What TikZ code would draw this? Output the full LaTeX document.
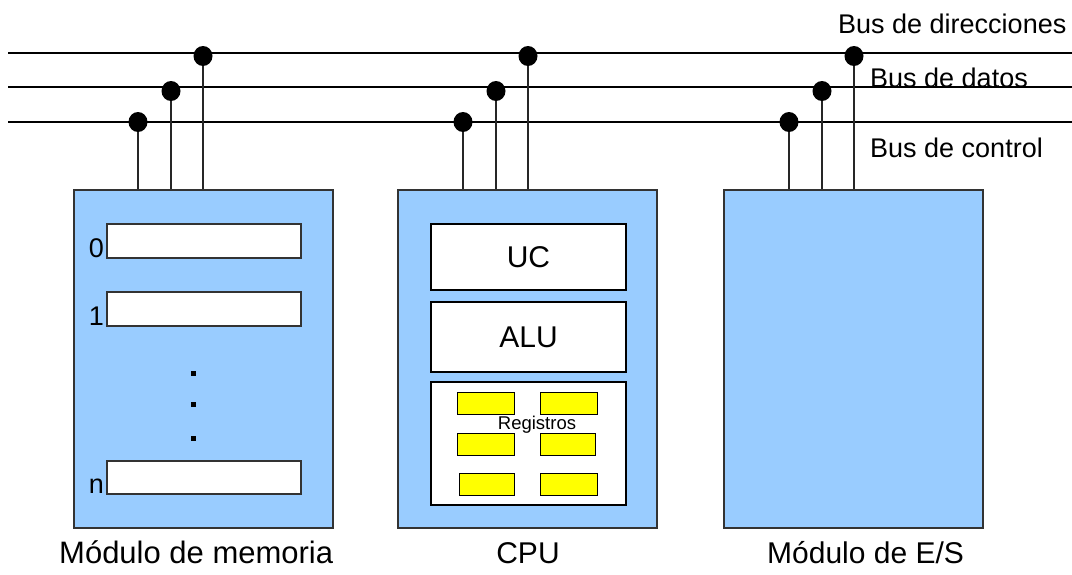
\documentclass[tikz,border=0pt]{standalone}
\usepackage{fontspec}
\setmainfont{Liberation Sans}
\usetikzlibrary{shapes.geometric}
\definecolor{modfill}{HTML}{99CCFF}
\definecolor{edge}{HTML}{333333}
\definecolor{regfill}{HTML}{FFFF00}
\tikzset{
  module/.style={draw=edge, line width=1.2pt, fill=modfill, rectangle, inner sep=0pt,
                 minimum width=259pt, minimum height=338pt},
  cell/.style={draw=edge, line width=1.2pt, fill=white, rectangle, inner sep=0pt,
               minimum width=194pt, minimum height=34pt},
  unit/.style={draw=black, line width=1.2pt, fill=white, rectangle, inner sep=0pt,
               minimum width=195pt, font=\fontsize{30}{36}\selectfont},
  reg/.style={draw=black, line width=1pt, fill=regfill, rectangle, inner sep=0pt,
              minimum width=57pt, minimum height=22pt},
  tap/.style={ellipse, fill=black, inner sep=0pt, minimum width=19pt, minimum height=20pt},
  busline/.style={line width=1.3pt, black},
  stem/.style={line width=1.2pt, black!85},
  buslabel/.style={inner sep=0pt, anchor=base west, font=\fontsize{27}{32}\selectfont},
  modlabel/.style={inner sep=0pt, anchor=base west, font=\fontsize{30}{36}\selectfont},
  idx/.style={inner sep=0pt, anchor=base east, font=\fontsize{27}{32}\selectfont},
  ellip/.style={fill=black, rectangle, inner sep=0pt, minimum size=5pt}
}
\begin{document}
\begin{tikzpicture}[x=1pt, y=-1pt]
\useasboundingbox (0,0) rectangle (1072,574);

% bus lines
\coordinate (addrW) at (8,53);   \coordinate (addrE) at (1072,53);
\coordinate (dataW) at (8,87);   \coordinate (dataE) at (1072,87);
\coordinate (ctrlW) at (8,122);  \coordinate (ctrlE) at (1072,122);
\draw[busline] (addrW) -- (addrE);
\draw[busline] (dataW) -- (dataE);
\draw[busline] (ctrlW) -- (ctrlE);

\node[buslabel] (laddr) at (838,33) {Bus de direcciones};
\node[buslabel] (ldata) at (870,87) {Bus de datos};
\node[buslabel] (lctrl) at (870,157) {Bus de control};

% modules
\node[module] (mem) at (203.5,359) {};
\node[module] (cpu) at (527.5,359) {};
\node[module] (io)  at (853.5,359) {};

% bus taps and stems
\foreach \n/\x in {mem/0, cpu/325, io/651}{
  \node[tap] (\n c) at (138+\x,122) {};
  \node[tap] (\n d) at (171+\x,91) {};
  \node[tap] (\n a) at (203+\x,56) {};
  \draw[stem] (\n c) -- (\n c |- \n.north);
  \draw[stem] (\n d) -- (\n d |- \n.north);
  \draw[stem] (\n a) -- (\n a |- \n.north);
}

% memory cells
\node[cell] (m0) at (204,241) {};
\node[cell] (m1) at (204,309) {};
\node[cell, minimum height=33pt] (mn) at (204,477.5) {};
\node[idx] (i0) at (104,257) {0};
\node[idx] (i1) at (104,325) {1};
\node[idx] (in) at (104,493) {n};
\node[ellip] (e1) at (193,373.5) {};
\node[ellip] (e2) at (193,404.5) {};
\node[ellip] (e3) at (193,438) {};

% CPU internals
\node[unit, minimum height=66pt] (uc) at (528.5,257) {UC};
\node[unit, minimum height=70pt] (alu) at (528.5,337) {ALU};
\node[unit, minimum height=123pt] (regs) at (528.5,443.5) {};
\node[reg] (r11) at (485.5,403) {};
\node[reg] (r12) at (568.5,403) {};
\node[reg] (r21) at (485.5,444) {};
\node[reg, minimum width=55pt] (r22) at (567.5,444.5) {};
\node[reg, minimum width=55pt] (r31) at (486.5,484) {};
\node[reg] (r32) at (568.5,484) {};
\node[inner sep=0pt, font=\fontsize{18.5}{22}\selectfont] (lreg) at (537,425) {Registros};

% module captions
\node[modlabel, font=\fontsize{31}{37}\selectfont] (lmem) at (59,563) {Módulo de memoria};
\node[modlabel, anchor=base] (lcpu) at (528,563) {CPU};
\node[modlabel] (lio) at (767,563) {Módulo de E/S};
\end{tikzpicture}
\end{document}
